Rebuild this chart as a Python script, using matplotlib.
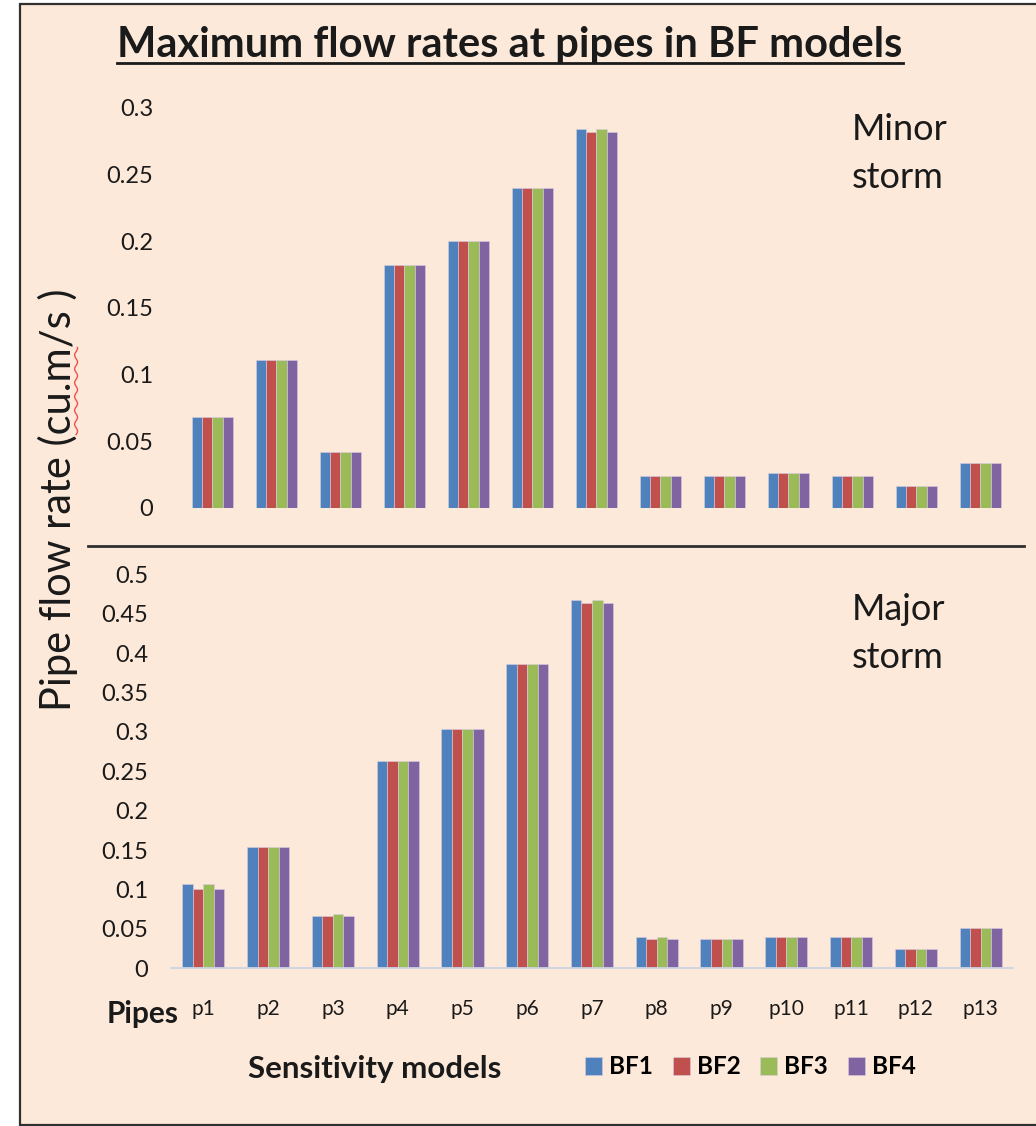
import matplotlib
matplotlib.use("Agg")
import matplotlib.pyplot as plt
import numpy as np
from matplotlib.patches import Rectangle
from matplotlib.lines import Line2D
from matplotlib.ticker import FuncFormatter, MultipleLocator

# ---- data -------------------------------------------------------------
pipes = ["p1", "p2", "p3", "p4", "p5", "p6", "p7", "p8", "p9", "p10", "p11", "p12", "p13"]
models = ["BF1", "BF2", "BF3", "BF4"]

minor_bf1 = [0.068, 0.111, 0.042, 0.182, 0.2005, 0.240, 0.284, 0.0243, 0.0243, 0.026, 0.0243, 0.0165, 0.034]
minor_bf2 = [0.068, 0.111, 0.042, 0.182, 0.2005, 0.240, 0.2823, 0.0243, 0.0243, 0.026, 0.0243, 0.0165, 0.034]
minor_bf3 = [0.068, 0.111, 0.042, 0.182, 0.2005, 0.240, 0.284, 0.0243, 0.0243, 0.026, 0.0243, 0.0165, 0.034]
minor_bf4 = [0.068, 0.111, 0.042, 0.182, 0.2005, 0.240, 0.2823, 0.0243, 0.0243, 0.026, 0.0243, 0.0165, 0.034]

major_bf1 = [0.1066, 0.1543, 0.0664, 0.2635, 0.3033, 0.3858, 0.468, 0.040, 0.0372, 0.040, 0.040, 0.0241, 0.0508]
major_bf2 = [0.101, 0.1543, 0.0664, 0.2635, 0.3033, 0.3858, 0.463, 0.0372, 0.0372, 0.040, 0.040, 0.0241, 0.0508]
major_bf3 = [0.1066, 0.1543, 0.0693, 0.2635, 0.3033, 0.3858, 0.468, 0.040, 0.0372, 0.040, 0.040, 0.0241, 0.0508]
major_bf4 = [0.101, 0.1543, 0.0664, 0.2635, 0.3033, 0.3858, 0.463, 0.0372, 0.0372, 0.040, 0.040, 0.0241, 0.0508]

minor = [minor_bf1, minor_bf2, minor_bf3, minor_bf4]
major = [major_bf1, major_bf2, major_bf3, major_bf4]
colors = ["#4F81BD", "#C0504D", "#9BBB59", "#8064A2"]

# ---- figure -----------------------------------------------------------
FONT = "Lato"
TXT = "#1a1a1a"
W, H = 1036, 1126
fig = plt.figure(figsize=(W / 100, H / 100), dpi=100, facecolor="white")


def fx(x):
    return x / W


def fy(y):
    return 1 - y / H


# peach chart area with dark frame
fig.patches.append(Rectangle((fx(20), fy(1125)), 1.0, fy(4) - fy(1125),
                             transform=fig.transFigure, facecolor="#FDE9D9",
                             edgecolor="#303030", linewidth=1.6, zorder=-10))

ax_top = fig.add_axes([fx(180.5), fy(508), (1012.3 - 180.5) / W, 400 / H])
ax_bot = fig.add_axes([fx(171), fy(968.3), 842 / W, 394 / H])

x = np.arange(len(pipes))
bw = 0.1625
fmt = FuncFormatter(lambda v, _: "0" if abs(v) < 1e-9 else f"{v:g}")

handles = []
for ax, series, ymax, pad in ((ax_top, minor, 0.3, 19.5), (ax_bot, major, 0.5, 16.5)):
    ax.set_facecolor("none")
    for i, (vals, c) in enumerate(zip(series, colors)):
        b = ax.bar(x + (i - 1.5) * bw, vals, width=bw, color=c, edgecolor="#d8cde0",
                   linewidth=0.4, label=models[i])
        if ax is ax_bot:
            handles.append(b)
    ax.set_xlim(-0.5, len(pipes) - 0.5)
    ax.set_ylim(0, ymax)
    ax.yaxis.set_major_locator(MultipleLocator(0.05))
    ax.yaxis.set_major_formatter(fmt)
    for s in ax.spines.values():
        s.set_visible(False)
    ax.tick_params(axis="both", length=0, colors=TXT)
    ax.tick_params(axis="y", pad=pad, labelsize=17)
    for lab in ax.get_yticklabels():
        lab.set_fontfamily(FONT)

ax_top.set_xticks([])
ax_bot.spines["bottom"].set_visible(True)
ax_bot.spines["bottom"].set_color("#CDD3E3")
ax_bot.spines["bottom"].set_linewidth(1.3)
ax_bot.set_xticks(x)
ax_bot.set_xticklabels(pipes, fontfamily=FONT, fontsize=15, color=TXT)
ax_bot.tick_params(axis="x", pad=22)

# separator between the two storm panels
fig.add_artist(Line2D([fx(88), fx(1024)], [fy(546), fy(546)], color="#303030", linewidth=2.0))

# panel captions
fig.text(fx(852), fy(140), "Minor", fontfamily=FONT, fontsize=26, color=TXT, va="baseline")
fig.text(fx(852), fy(188), "storm", fontfamily=FONT, fontsize=26, color=TXT, va="baseline")
fig.text(fx(852), fy(620), "Major", fontfamily=FONT, fontsize=26, color=TXT, va="baseline")
fig.text(fx(852), fy(668), "storm", fontfamily=FONT, fontsize=26, color=TXT, va="baseline")

# axis captions
fig.text(fx(107), fy(1023), "Pipes", fontfamily=FONT, fontsize=21.5, fontweight="bold",
         color=TXT, va="baseline")
fig.text(fx(375), fy(1078), "Sensitivity models", fontfamily=FONT, fontsize=22.5,
         fontweight="bold", color=TXT, ha="center", va="baseline")

ylab_text = "Pipe flow rate (cu.m/s )"
ylab = fig.text(fx(58), fy(500), ylab_text, rotation=90, fontfamily=FONT, fontsize=30,
                color=TXT, ha="center", va="center")

# legend
fig.legend(handles, models, loc="center left", bbox_to_anchor=(fx(585), fy(1067)), ncol=4,
           frameon=False, prop={"family": FONT, "weight": "bold", "size": 17.5},
           handlelength=0.7, handleheight=0.7, handletextpad=0.3, columnspacing=0.8,
           borderpad=0, borderaxespad=0)

# underlined title
title = fig.text(fx(510), fy(57), "Maximum flow rates at pipes in BF models", fontfamily=FONT,
                 fontsize=30, fontweight="bold", color=TXT, ha="center", va="baseline")

fig.canvas.draw()
r = fig.canvas.get_renderer()
tb = title.get_window_extent(r)
fig.add_artist(Line2D([tb.x0 / W, tb.x1 / W], [fy(63), fy(63)], color=TXT, linewidth=2.0))

# spelling squiggle beneath "cu.m" in the rotated caption
lb = ylab.get_window_extent(r)
probe = fig.text(0, 0, "Pipe flow rate (", fontfamily=FONT, fontsize=30)
w_a = probe.get_window_extent(r).width
probe.set_text("Pipe flow rate (cu.m")
w_b = probe.get_window_extent(r).width
probe.remove()
y0 = lb.y0 + w_a
y1 = lb.y0 + w_b
ys = np.linspace(y0, y1, 60)
xs = lb.x1 - 2 + 1.5 * np.sin((ys - y0) / 2.2)
fig.add_artist(Line2D(xs / W, ys / H, color="#F05050", linewidth=1.0))

fig.savefig("out.png", dpi=100, facecolor="white")
